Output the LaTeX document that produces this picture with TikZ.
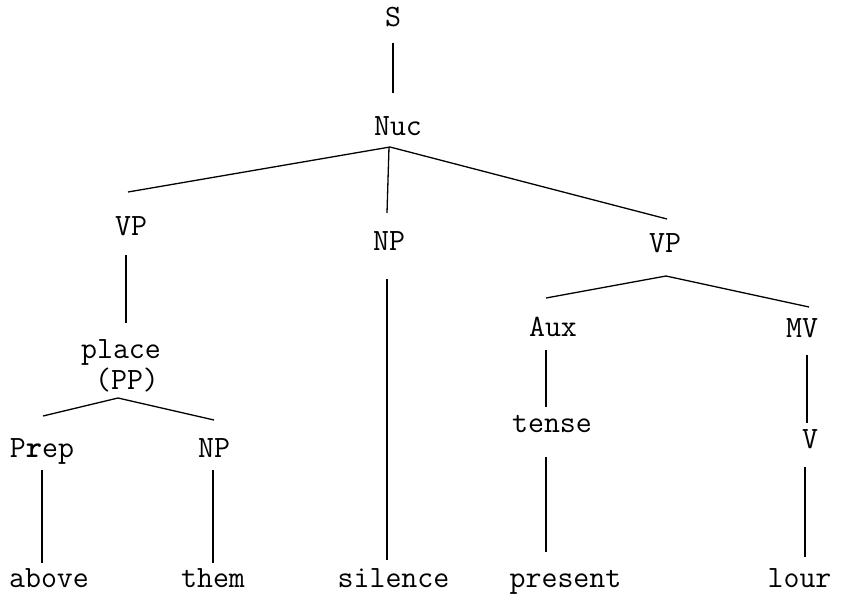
\documentclass[tikz,border=0pt]{standalone}
\usepackage{fontspec}
\begin{document}
\begin{tikzpicture}[x=1pt,y=-1pt,
  lab/.style={anchor=base,inner sep=0pt,font=\ttfamily\fontsize{31}{31}\selectfont},
  edge/.style={line width=1.3pt,black}]
\useasboundingbox[fill=white] (0,0) rectangle (841,595);
% nodes
\node[lab] (S)    at (393,26)  {S};
\node[lab] (nuc)  at (398,135) {Nuc};
\node[lab] (vpL)  at (131,235) {VP};
\node[lab] (npM)  at (389,250) {NP};
\node[lab] (vpR)  at (665,252) {VP};
\node[lab] (place) at (121,358) {place};
\node[lab] (pp)   at (127,389) {(PP)};
\node[lab] (prep) at (42,457)  {P\textbf{r}ep};
\node[lab] (npB)  at (214,457) {NP};
\node[lab] (aux)  at (553,336) {Aux};
\node[lab] (mv)   at (802,337) {MV};
\node[lab] (tense) at (552,432) {tense};
\node[lab] (v)    at (810,448) {V};
\node[lab] (above) at (49,587) {above};
\node[lab] (them) at (213,587) {them};
\node[lab] (silence) at (393.5,587) {silence};
\node[lab] (present) at (565.5,587) {present};
\node[lab] (lour) at (799.5,587) {lour};
% connectors
\draw[edge] ([shift={(0,17)}]S.base) -- ([shift={(-5,-42)}]nuc.base);
\draw[edge] ([shift={(-8,12)}]nuc.base) -- ([shift={(-3,-43)}]vpL.base);
\draw[edge] ([shift={(-9,12)}]nuc.base) -- ([shift={(-2,-37)}]npM.base);
\draw[edge] ([shift={(-8,12)}]nuc.base) -- ([shift={(2,-33)}]vpR.base);
\draw[edge] ([shift={(-5,20)}]vpL.base) -- ([shift={(5,-35)}]place.base);
\draw[edge] ([shift={(-9,9)}]pp.base) -- ([shift={(1,-41)}]prep.base);
\draw[edge] ([shift={(-9,9)}]pp.base) -- ([shift={(0,-37)}]npB.base);
\draw[edge] ([shift={(0,13)}]prep.base) -- ([shift={(-7,-24)}]above.base);
\draw[edge] ([shift={(-1,13)}]npB.base) -- ([shift={(0,-24)}]them.base);
\draw[edge] ([shift={(-2,29)}]npM.base) -- ([shift={(-6.5,-27)}]silence.base);
\draw[edge] ([shift={(1,24)}]vpR.base) -- ([shift={(-7,-38)}]aux.base);
\draw[edge] ([shift={(1,24)}]vpR.base) -- ([shift={(7,-30)}]mv.base);
\draw[edge] ([shift={(-7,14)}]aux.base) -- ([shift={(-6,-25)}]tense.base);
\draw[edge] ([shift={(-6,25)}]tense.base) -- ([shift={(-19.5,-35)}]present.base);
\draw[edge] ([shift={(5,18)}]mv.base) -- ([shift={(-3,-25)}]v.base);
\draw[edge] ([shift={(-5,19)}]v.base) -- ([shift={(5.5,-30)}]lour.base);
\end{tikzpicture}
\end{document}
